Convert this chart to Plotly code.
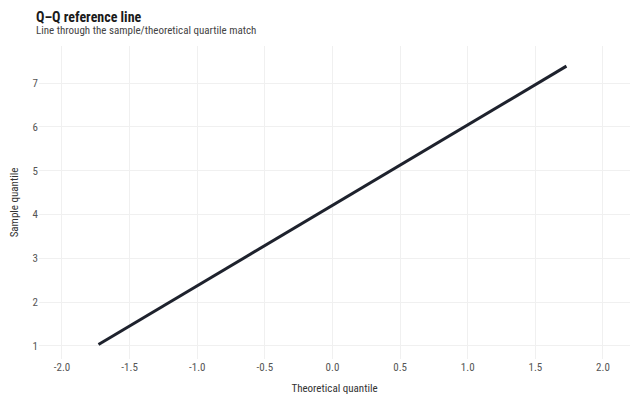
import plotly.graph_objects as go

# reference line endpoints
theoretical = [-1.73, 1.73]
sample = [1.03, 7.39]

x_ticks = [-2.0, -1.5, -1.0, -0.5, 0.0, 0.5, 1.0, 1.5, 2.0]
y_ticks = [1, 2, 3, 4, 5, 6, 7]

font_family = "Roboto Condensed, Roboto, sans-serif"

fig = go.Figure()
fig.add_trace(go.Scatter(
    x=theoretical, y=sample, mode="lines",
    line=dict(color="#1e222d", width=3),
    hoverinfo="skip", showlegend=False,
))

fig.update_layout(
    width=640, height=400,
    paper_bgcolor="white", plot_bgcolor="white",
    font=dict(family=font_family, color="#444444", size=11),
    margin=dict(l=31, r=18, t=38, b=49, autoexpand=False),
    xaxis=dict(
        range=[-2.17, 2.2], tickvals=x_ticks,
        ticktext=["%.1f" % v for v in x_ticks],
        showgrid=True, gridcolor="#f0f0f0", zeroline=False, automargin=False,
        showline=False, ticks="", tickfont=dict(size=11, color="#555"),
        title=dict(text="Theoretical quantile", font=dict(size=11, color="#333"), standoff=11),
    ),
    yaxis=dict(
        range=[0.7, 7.85], tickvals=y_ticks,
        showgrid=True, gridcolor="#f0f0f0", zeroline=False, automargin=False,
        showline=False, ticks="", tickfont=dict(size=11, color="#555"),
        title=dict(text="Sample quantile", font=dict(size=11, color="#333"), standoff=22),
    ),
    annotations=[
        dict(text="<b>Q–Q reference line</b>", xref="paper", yref="paper",
             x=0, y=1, xshift=-5, yshift=29, xanchor="left", yanchor="middle",
             showarrow=False, font=dict(size=14, color="#1a1a1a", family=font_family)),
        dict(text="Line through the sample/theoretical quartile match", xref="paper", yref="paper",
             x=0, y=1, xshift=-5, yshift=16, xanchor="left", yanchor="middle",
             showarrow=False, font=dict(size=11, color="#444", family=font_family)),
    ],
)

fig.write_html("out.html")
